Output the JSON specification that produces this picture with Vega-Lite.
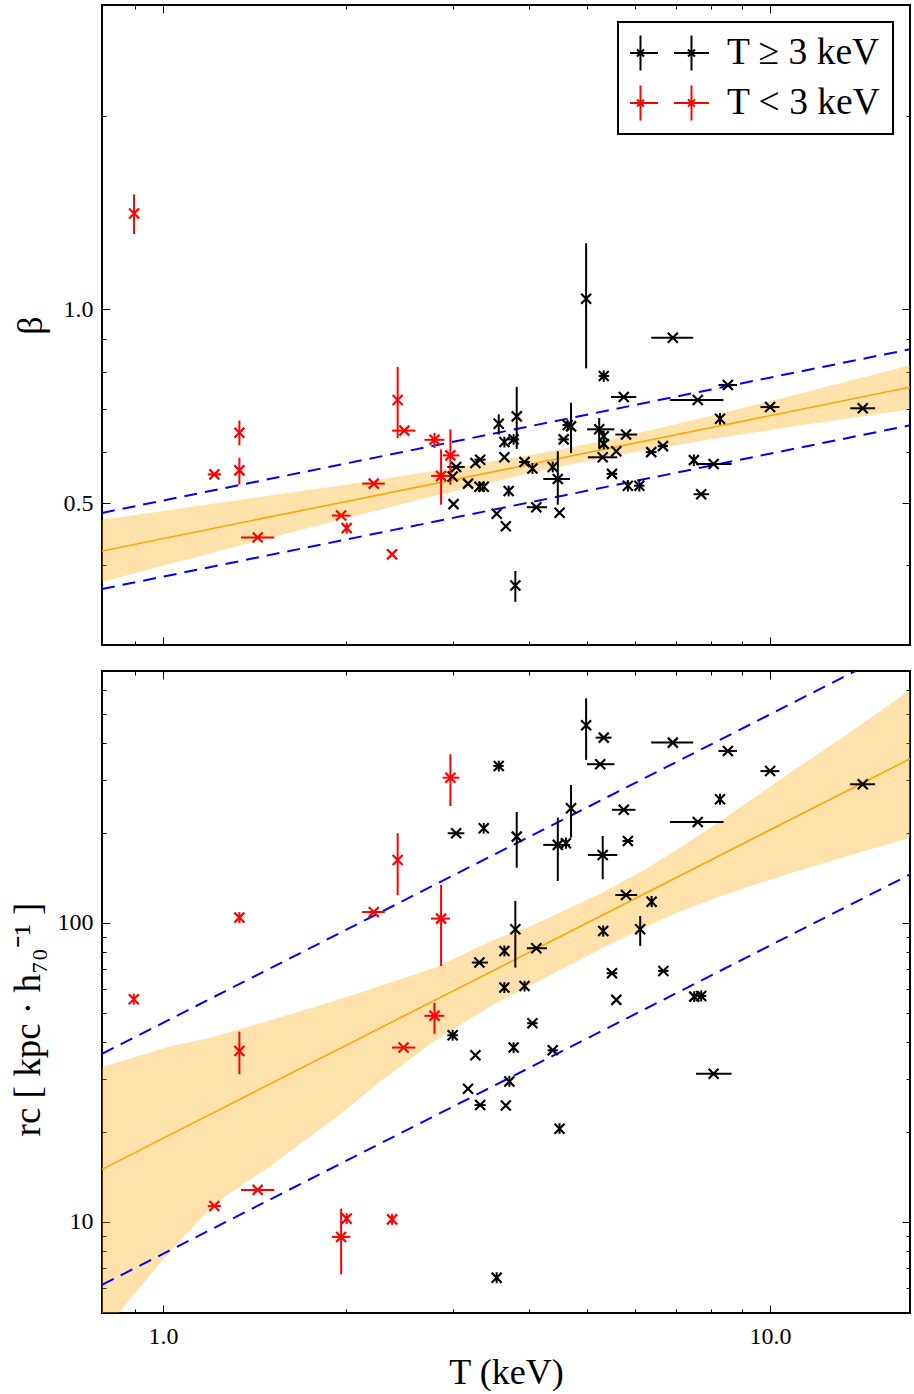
{
  "$schema": "https://vega.github.io/schema/vega-lite/v6.json",
  "background": "white",
  "padding": {"left": 8, "top": 3, "right": 5, "bottom": 0},
  "spacing": 22,
  "config": {
    "font": "Liberation Serif",
    "view": {"stroke": "black", "strokeWidth": 2},
    "axis": {
      "domain": false, "grid": false,
      "labelFont": "Liberation Serif", "labelFontSize": 24, "labelColor": "black",
      "tickColor": "black", "tickWidth": 1,
      "titleFont": "Liberation Serif", "titleFontSize": 36, "titleFontWeight": "normal", "titleColor": "black",
      "labelFlush": false, "labelOverlap": false, "labelBound": false
    },
    "legend": {"strokeWidth": 2}
  },
  "datasets": {
    "beta": [
      {"T": 0.896, "b": 1.41, "bl": 1.31, "bh": 1.51, "g": "T < 3 keV"},
      {"T": 1.215, "b": 0.554, "tl": 1.185, "th": 1.246, "g": "T < 3 keV"},
      {"T": 1.336, "b": 0.643, "bl": 0.615, "bh": 0.672, "g": "T < 3 keV"},
      {"T": 1.336, "b": 0.562, "bl": 0.534, "bh": 0.588, "g": "T < 3 keV"},
      {"T": 1.432, "b": 0.442, "tl": 1.344, "th": 1.525, "g": "T < 3 keV"},
      {"T": 1.965, "b": 0.478, "tl": 1.898, "th": 2.035, "g": "T < 3 keV"},
      {"T": 2.007, "b": 0.457, "bl": 0.448, "bh": 0.466, "g": "T < 3 keV"},
      {"T": 2.224, "b": 0.536, "tl": 2.128, "th": 2.319, "g": "T < 3 keV"},
      {"T": 2.384, "b": 0.416, "g": "T < 3 keV"},
      {"T": 2.435, "b": 0.723, "bl": 0.631, "bh": 0.814, "g": "T < 3 keV"},
      {"T": 2.498, "b": 0.648, "tl": 2.384, "th": 2.604, "g": "T < 3 keV"},
      {"T": 2.8, "b": 0.627, "bl": 0.609, "bh": 0.643, "tl": 2.695, "th": 2.907, "g": "T < 3 keV"},
      {"T": 2.871, "b": 0.551, "bl": 0.497, "bh": 0.606, "tl": 2.764, "th": 2.97, "g": "T < 3 keV"},
      {"T": 2.974, "b": 0.593, "bl": 0.534, "bh": 0.651, "tl": 2.89, "th": 3.077, "g": "T < 3 keV"},
      {"T": 4.977, "b": 1.039, "bl": 0.81, "bh": 1.268, "g": "T ≥ 3 keV"},
      {"T": 6.915, "b": 0.904, "tl": 6.37, "th": 7.47, "g": "T ≥ 3 keV"},
      {"T": 5.32, "b": 0.788, "bl": 0.772, "bh": 0.804, "tl": 5.22, "th": 5.43, "g": "T ≥ 3 keV"},
      {"T": 5.74, "b": 0.731, "tl": 5.47, "th": 6.02, "g": "T ≥ 3 keV"},
      {"T": 3.573, "b": 0.664, "bl": 0.639, "bh": 0.687, "g": "T ≥ 3 keV"},
      {"T": 3.825, "b": 0.682, "bl": 0.607, "bh": 0.758, "g": "T ≥ 3 keV"},
      {"T": 3.65, "b": 0.622, "bl": 0.61, "bh": 0.634, "g": "T ≥ 3 keV"},
      {"T": 3.78, "b": 0.628, "bl": 0.616, "bh": 0.64, "tl": 3.7, "th": 3.86, "g": "T ≥ 3 keV"},
      {"T": 3.65, "b": 0.589, "g": "T ≥ 3 keV"},
      {"T": 3.27, "b": 0.577, "g": "T ≥ 3 keV"},
      {"T": 3.33, "b": 0.584, "tl": 3.26, "th": 3.4, "g": "T ≥ 3 keV"},
      {"T": 3.04, "b": 0.569, "tl": 2.94, "th": 3.14, "g": "T ≥ 3 keV"},
      {"T": 3.0, "b": 0.55, "g": "T ≥ 3 keV"},
      {"T": 3.01, "b": 0.498, "g": "T ≥ 3 keV"},
      {"T": 3.18, "b": 0.536, "g": "T ≥ 3 keV"},
      {"T": 3.32, "b": 0.53, "bl": 0.52, "bh": 0.54, "g": "T ≥ 3 keV"},
      {"T": 3.375, "b": 0.53, "bl": 0.52, "bh": 0.54, "g": "T ≥ 3 keV"},
      {"T": 3.71, "b": 0.522, "bl": 0.512, "bh": 0.532, "g": "T ≥ 3 keV"},
      {"T": 3.545, "b": 0.481, "g": "T ≥ 3 keV"},
      {"T": 3.67, "b": 0.46, "g": "T ≥ 3 keV"},
      {"T": 3.805, "b": 0.372, "bl": 0.351, "bh": 0.392, "g": "T ≥ 3 keV"},
      {"T": 3.94, "b": 0.579, "tl": 3.86, "th": 4.02, "g": "T ≥ 3 keV"},
      {"T": 4.06, "b": 0.566, "bl": 0.555, "bh": 0.577, "g": "T ≥ 3 keV"},
      {"T": 4.12, "b": 0.4925, "tl": 3.975, "th": 4.29, "g": "T ≥ 3 keV"},
      {"T": 4.385, "b": 0.569, "bl": 0.558, "bh": 0.58, "g": "T ≥ 3 keV"},
      {"T": 4.47, "b": 0.545, "tl": 4.23, "th": 4.68, "bl": 0.497, "bh": 0.602, "g": "T ≥ 3 keV"},
      {"T": 4.5, "b": 0.483, "g": "T ≥ 3 keV"},
      {"T": 4.57, "b": 0.628, "tl": 4.48, "th": 4.66, "g": "T ≥ 3 keV"},
      {"T": 4.64, "b": 0.661, "bl": 0.648, "bh": 0.674, "tl": 4.55, "th": 4.73, "g": "T ≥ 3 keV"},
      {"T": 4.7, "b": 0.658, "bl": 0.598, "bh": 0.716, "g": "T ≥ 3 keV"},
      {"T": 5.23, "b": 0.651, "tl": 4.995, "th": 5.54, "bl": 0.609, "bh": 0.678, "g": "T ≥ 3 keV"},
      {"T": 5.32, "b": 0.635, "bl": 0.623, "bh": 0.648, "g": "T ≥ 3 keV"},
      {"T": 5.32, "b": 0.618, "bl": 0.606, "bh": 0.63, "g": "T ≥ 3 keV"},
      {"T": 5.3, "b": 0.589, "tl": 5.01, "th": 5.6, "g": "T ≥ 3 keV"},
      {"T": 5.79, "b": 0.639, "tl": 5.56, "th": 6.04, "g": "T ≥ 3 keV"},
      {"T": 5.58, "b": 0.602, "g": "T ≥ 3 keV"},
      {"T": 5.49, "b": 0.555, "tl": 5.38, "th": 5.6, "g": "T ≥ 3 keV"},
      {"T": 5.83, "b": 0.532, "bl": 0.521, "bh": 0.543, "g": "T ≥ 3 keV"},
      {"T": 6.09, "b": 0.532, "bl": 0.521, "bh": 0.543, "tl": 5.97, "th": 6.21, "g": "T ≥ 3 keV"},
      {"T": 6.37, "b": 0.6, "tl": 6.24, "th": 6.5, "g": "T ≥ 3 keV"},
      {"T": 6.66, "b": 0.613, "tl": 6.53, "th": 6.79, "g": "T ≥ 3 keV"},
      {"T": 8.52, "b": 0.763, "tl": 8.22, "th": 8.82, "g": "T ≥ 3 keV"},
      {"T": 7.6, "b": 0.723, "tl": 6.84, "th": 8.38, "g": "T ≥ 3 keV"},
      {"T": 8.27, "b": 0.676, "bl": 0.662, "bh": 0.69, "g": "T ≥ 3 keV"},
      {"T": 10.0, "b": 0.705, "tl": 9.64, "th": 10.36, "g": "T ≥ 3 keV"},
      {"T": 14.21, "b": 0.702, "tl": 13.55, "th": 14.89, "g": "T ≥ 3 keV"},
      {"T": 7.49, "b": 0.583, "bl": 0.571, "bh": 0.595, "g": "T ≥ 3 keV"},
      {"T": 8.07, "b": 0.575, "tl": 7.55, "th": 8.64, "g": "T ≥ 3 keV"},
      {"T": 7.7, "b": 0.516, "tl": 7.48, "th": 7.94, "g": "T ≥ 3 keV"}
    ],
    "rc": [
      {"T": 0.895, "r": 55.6, "rl": 53.3, "rh": 58, "g": "T < 3 keV"},
      {"T": 1.215, "r": 11.3, "tl": 1.185, "th": 1.246, "g": "T < 3 keV"},
      {"T": 1.336, "r": 104.2, "rl": 99.9, "rh": 108.7, "g": "T < 3 keV"},
      {"T": 1.336, "r": 37.3, "rl": 31.2, "rh": 43.3, "g": "T < 3 keV"},
      {"T": 1.432, "r": 12.8, "tl": 1.344, "th": 1.525, "g": "T < 3 keV"},
      {"T": 1.965, "r": 8.91, "rl": 6.68, "rh": 11.08, "tl": 1.898, "th": 2.035, "g": "T < 3 keV"},
      {"T": 2.007, "r": 10.26, "rl": 9.84, "rh": 10.7, "g": "T < 3 keV"},
      {"T": 2.224, "r": 108.8, "tl": 2.128, "th": 2.319, "g": "T < 3 keV"},
      {"T": 2.384, "r": 10.2, "rl": 9.78, "rh": 10.64, "g": "T < 3 keV"},
      {"T": 2.435, "r": 162.4, "rl": 123.8, "rh": 199.5, "g": "T < 3 keV"},
      {"T": 2.49, "r": 38.3, "tl": 2.384, "th": 2.604, "g": "T < 3 keV"},
      {"T": 2.8, "r": 48.9, "rl": 42.6, "rh": 54.1, "tl": 2.695, "th": 2.907, "g": "T < 3 keV"},
      {"T": 2.871, "r": 103.4, "rl": 71.8, "rh": 134, "tl": 2.764, "th": 2.97, "g": "T < 3 keV"},
      {"T": 2.974, "r": 306, "rl": 246, "rh": 366.6, "tl": 2.89, "th": 3.077, "g": "T < 3 keV"},
      {"T": 4.977, "r": 458, "rl": 351, "rh": 564, "g": "T ≥ 3 keV"},
      {"T": 5.32, "r": 416.6, "tl": 5.16, "th": 5.48, "g": "T ≥ 3 keV"},
      {"T": 6.915, "r": 401, "tl": 6.37, "th": 7.47, "g": "T ≥ 3 keV"},
      {"T": 5.25, "r": 339.6, "tl": 4.995, "th": 5.54, "g": "T ≥ 3 keV"},
      {"T": 3.573, "r": 335, "rl": 321, "rh": 349, "tl": 3.5, "th": 3.64, "g": "T ≥ 3 keV"},
      {"T": 4.7, "r": 241.9, "rl": 192.9, "rh": 289.3, "g": "T ≥ 3 keV"},
      {"T": 5.74, "r": 239, "tl": 5.49, "th": 6.0, "g": "T ≥ 3 keV"},
      {"T": 3.04, "r": 199.5, "tl": 2.944, "th": 3.136, "g": "T ≥ 3 keV"},
      {"T": 3.375, "r": 207.4, "rl": 199, "rh": 216, "g": "T ≥ 3 keV"},
      {"T": 3.825, "r": 194.4, "rl": 153, "rh": 235, "g": "T ≥ 3 keV"},
      {"T": 4.47, "r": 182.4, "tl": 4.23, "th": 4.68, "rl": 138.2, "rh": 225, "g": "T ≥ 3 keV"},
      {"T": 4.61, "r": 184.8, "rl": 177, "rh": 193, "g": "T ≥ 3 keV"},
      {"T": 5.83, "r": 188, "tl": 5.71, "th": 5.95, "g": "T ≥ 3 keV"},
      {"T": 5.3, "r": 168.8, "tl": 5.01, "th": 5.6, "rl": 140, "rh": 195.4, "g": "T ≥ 3 keV"},
      {"T": 5.79, "r": 124, "tl": 5.56, "th": 6.04, "g": "T ≥ 3 keV"},
      {"T": 6.38, "r": 117.8, "rl": 113, "rh": 123, "g": "T ≥ 3 keV"},
      {"T": 3.805, "r": 95.3, "rl": 70.9, "rh": 118.5, "g": "T ≥ 3 keV"},
      {"T": 5.31, "r": 94, "rl": 90, "rh": 98, "g": "T ≥ 3 keV"},
      {"T": 6.11, "r": 95.3, "rl": 83.8, "rh": 105.5, "g": "T ≥ 3 keV"},
      {"T": 4.12, "r": 82.3, "tl": 3.975, "th": 4.29, "g": "T ≥ 3 keV"},
      {"T": 3.65, "r": 80.6, "rl": 77.3, "rh": 84, "g": "T ≥ 3 keV"},
      {"T": 3.32, "r": 73.7, "tl": 3.226, "th": 3.43, "g": "T ≥ 3 keV"},
      {"T": 3.65, "r": 60.8, "rl": 58.3, "rh": 63.4, "g": "T ≥ 3 keV"},
      {"T": 3.94, "r": 61.5, "rl": 59, "rh": 64, "g": "T ≥ 3 keV"},
      {"T": 5.49, "r": 67.9, "tl": 5.38, "th": 5.6, "g": "T ≥ 3 keV"},
      {"T": 6.67, "r": 69.1, "tl": 6.54, "th": 6.8, "g": "T ≥ 3 keV"},
      {"T": 5.58, "r": 55.3, "g": "T ≥ 3 keV"},
      {"T": 7.5, "r": 56.7, "rl": 54.4, "rh": 59.1, "g": "T ≥ 3 keV"},
      {"T": 7.7, "r": 57, "rl": 54.6, "rh": 59.5, "tl": 7.55, "th": 7.85, "g": "T ≥ 3 keV"},
      {"T": 8.52, "r": 376, "tl": 8.22, "th": 8.82, "g": "T ≥ 3 keV"},
      {"T": 10.0, "r": 322, "tl": 9.64, "th": 10.36, "g": "T ≥ 3 keV"},
      {"T": 14.21, "r": 290.9, "tl": 13.55, "th": 14.89, "g": "T ≥ 3 keV"},
      {"T": 8.27, "r": 259.2, "rl": 248.5, "rh": 270.3, "g": "T ≥ 3 keV"},
      {"T": 7.6, "r": 217.6, "tl": 6.84, "th": 8.38, "g": "T ≥ 3 keV"},
      {"T": 8.07, "r": 31.3, "tl": 7.55, "th": 8.64, "g": "T ≥ 3 keV"},
      {"T": 3.0, "r": 42.1, "rl": 40.4, "rh": 43.9, "tl": 2.94, "th": 3.06, "g": "T ≥ 3 keV"},
      {"T": 3.27, "r": 36.1, "g": "T ≥ 3 keV"},
      {"T": 3.78, "r": 38.3, "rl": 36.7, "rh": 39.9, "g": "T ≥ 3 keV"},
      {"T": 4.06, "r": 46.2, "tl": 3.98, "th": 4.14, "g": "T ≥ 3 keV"},
      {"T": 4.385, "r": 37.5, "tl": 4.3, "th": 4.47, "g": "T ≥ 3 keV"},
      {"T": 3.72, "r": 29.5, "rl": 28.3, "rh": 30.8, "g": "T ≥ 3 keV"},
      {"T": 3.18, "r": 27.9, "g": "T ≥ 3 keV"},
      {"T": 3.33, "r": 24.6, "tl": 3.26, "th": 3.4, "g": "T ≥ 3 keV"},
      {"T": 3.67, "r": 24.5, "g": "T ≥ 3 keV"},
      {"T": 4.5, "r": 20.5, "rl": 19.7, "rh": 21.4, "g": "T ≥ 3 keV"},
      {"T": 3.545, "r": 6.51, "rl": 6.24, "rh": 6.79, "g": "T ≥ 3 keV"}
    ],
    "topband": [
      {"T": 0.7934, "lo": 0.3767, "hi": 0.4708},
      {"T": 1.0, "lo": 0.3994, "hi": 0.486},
      {"T": 1.5, "lo": 0.4413, "hi": 0.5136},
      {"T": 2.0, "lo": 0.4734, "hi": 0.534},
      {"T": 3.0, "lo": 0.5211, "hi": 0.5666},
      {"T": 4.0, "lo": 0.5556, "hi": 0.5932},
      {"T": 5.0, "lo": 0.581, "hi": 0.6177},
      {"T": 6.0, "lo": 0.6002, "hi": 0.641},
      {"T": 8.0, "lo": 0.6282, "hi": 0.6834},
      {"T": 10.0, "lo": 0.6494, "hi": 0.7204},
      {"T": 13.0, "lo": 0.6738, "hi": 0.7675},
      {"T": 17.0, "lo": 0.6991, "hi": 0.8192}
    ],
    "topfit": [
      {"T": 0.7934, "f": 0.4211, "u": 0.4826, "l": 0.3675},
      {"T": 17.0, "f": 0.7568, "u": 0.8673, "l": 0.6604}
    ],
    "botband": [
      {"T": 0.7934, "lo": 4.22, "hi": 33.0},
      {"T": 0.846, "lo": 4.96, "hi": 34.3},
      {"T": 1.018, "lo": 7.82, "hi": 38.5},
      {"T": 1.215, "lo": 11.49, "hi": 41.6},
      {"T": 1.488, "lo": 15.19, "hi": 47.0},
      {"T": 1.913, "lo": 22.1, "hi": 54.8},
      {"T": 2.286, "lo": 29.6, "hi": 61.6},
      {"T": 2.796, "lo": 40.3, "hi": 70.7},
      {"T": 3.47, "lo": 52.8, "hi": 87.1},
      {"T": 4.04, "lo": 62.0, "hi": 97.7},
      {"T": 5.27, "lo": 81.9, "hi": 125.6},
      {"T": 6.2, "lo": 96.5, "hi": 150.2},
      {"T": 7.136, "lo": 109.7, "hi": 179.6},
      {"T": 8.2, "lo": 121.8, "hi": 216.5},
      {"T": 9.3, "lo": 132.9, "hi": 257.9},
      {"T": 10.9, "lo": 147.6, "hi": 322.4},
      {"T": 12.6, "lo": 161.2, "hi": 392.6},
      {"T": 14.67, "lo": 176.8, "hi": 486.6},
      {"T": 17.0, "lo": 192.4, "hi": 601.6}
    ],
    "botfit": [
      {"T": 0.7934, "f": 15.0, "u": 36.5, "l": 6.16},
      {"T": 17.0, "f": 353.9, "u": 861.6, "l": 145.3}
    ]
  },
  "vconcat": [
    {
      "width": 808,
      "height": 640,
      "resolve": {"axis": {"x": "independent", "y": "independent"}},
      "layer": [
        {
          "data": {"name": "topband"},
          "mark": {"type": "area", "color": "orange", "opacity": 0.33, "clip": true},
          "encoding": {
            "x": {"field": "T", "type": "quantitative",
              "scale": {"type": "log", "domain": [0.7934, 17.0], "nice": false},
              "axis": {"orient": "bottom", "values": [0.9, 1, 2, 3, 4, 5, 6, 7, 8, 9, 10], "labels": false, "title": null,
                "tickSize": {"condition": {"test": "datum.value == 1 || datum.value == 10", "value": -8}, "value": -4}}},
            "y": {"field": "lo", "type": "quantitative",
              "scale": {"type": "log", "domain": [0.3007, 2.976], "nice": false},
              "axis": {"orient": "left", "values": [0.4, 0.5, 0.6, 0.7, 0.8, 0.9, 1, 2],
                "labelExpr": "datum.value == 0.5 ? '0.5' : datum.value == 1 ? '1.0' : ''",
                "tickSize": {"condition": {"test": "datum.value == 0.5 || datum.value == 1", "value": -8}, "value": -4},
                "labelPadding": 17, "title": "β", "titlePadding": 14}},
            "y2": {"field": "hi"}
          }
        },
        {
          "data": {"name": "topfit"},
          "mark": {"type": "line", "color": "orange", "strokeWidth": 1.6, "clip": true},
          "encoding": {
            "x": {"field": "T", "type": "quantitative",
              "axis": {"orient": "top", "values": [0.9, 1, 2, 3, 4, 5, 6, 7, 8, 9, 10], "labels": false, "title": null,
                "tickSize": {"condition": {"test": "datum.value == 1 || datum.value == 10", "value": -8}, "value": -4}}},
            "y": {"field": "f", "type": "quantitative",
              "axis": {"orient": "right", "values": [0.4, 0.5, 0.6, 0.7, 0.8, 0.9, 1, 2], "labels": false, "title": null,
                "tickSize": {"condition": {"test": "datum.value == 0.5 || datum.value == 1", "value": -8}, "value": -4}}}
          }
        },
        {
          "data": {"name": "topfit"},
          "mark": {"type": "line", "color": "blue", "strokeWidth": 2, "strokeDash": [13, 8], "clip": true},
          "encoding": {
            "x": {"field": "T", "type": "quantitative", "axis": null},
            "y": {"field": "u", "type": "quantitative", "axis": null}
          }
        },
        {
          "data": {"name": "topfit"},
          "mark": {"type": "line", "color": "blue", "strokeWidth": 2, "strokeDash": [13, 8], "clip": true},
          "encoding": {
            "x": {"field": "T", "type": "quantitative", "axis": null},
            "y": {"field": "l", "type": "quantitative", "axis": null}
          }
        },
        {
          "data": {"name": "beta"},
          "transform": [{"filter": "isValid(datum.tl)"}],
          "mark": {"type": "rule", "strokeWidth": 2, "clip": true},
          "encoding": {
            "x": {"field": "tl", "type": "quantitative", "axis": null},
            "x2": {"field": "th"},
            "y": {"field": "b", "type": "quantitative", "axis": null},
            "color": {"field": "g", "type": "nominal", "scale": {"domain": ["T ≥ 3 keV", "T < 3 keV"], "range": ["black", "red"]}}
          }
        },
        {
          "data": {"name": "beta"},
          "transform": [{"filter": "isValid(datum.bl)"}],
          "mark": {"type": "rule", "strokeWidth": 2, "clip": true},
          "encoding": {
            "x": {"field": "T", "type": "quantitative", "axis": null},
            "y": {"field": "bl", "type": "quantitative", "axis": null},
            "y2": {"field": "bh"},
            "color": {"field": "g", "type": "nominal", "scale": {"domain": ["T ≥ 3 keV", "T < 3 keV"], "range": ["black", "red"]}}
          }
        },
        {
          "data": {"name": "beta"},
          "mark": {"type": "point", "shape": "M-1,-1L1,1M-1,1L1,-1", "size": 100, "strokeWidth": 2.2, "filled": false, "opacity": 1, "clip": true},
          "encoding": {
            "x": {"field": "T", "type": "quantitative", "axis": null},
            "y": {"field": "b", "type": "quantitative", "axis": null},
            "color": {"field": "g", "type": "nominal", "scale": {"domain": ["T ≥ 3 keV", "T < 3 keV"], "range": ["black", "red"]},
              "legend": {"title": null, "orient": "top-right", "offset": 17,
                "symbolType": "M-1,0H-0.186M-0.593,-0.407V0.407M0.186,0H1M0.593,-0.407V0.407M-0.674,-0.081L-0.512,0.081M-0.674,0.081L-0.512,-0.081M0.512,-0.081L0.674,0.081M0.512,0.081L0.674,-0.081",
                "symbolSize": 7396, "symbolStrokeWidth": 2, "symbolOpacity": 1, "symbolOffset": -8, "clipHeight": 38,
                "labelFontSize": 37.5, "labelFont": "Liberation Serif", "labelColor": "black", "labelOffset": 17, "labelLimit": 400,
                "strokeColor": "black", "fillColor": "white", "padding": 12, "rowPadding": 12, "cornerRadius": 0}}
          }
        }
      ]
    },
    {
      "width": 808,
      "height": 642,
      "resolve": {"axis": {"x": "independent", "y": "independent"}},
      "layer": [
        {
          "data": {"name": "botband"},
          "mark": {"type": "area", "color": "orange", "opacity": 0.33, "clip": true},
          "encoding": {
            "x": {"field": "T", "type": "quantitative",
              "scale": {"type": "log", "domain": [0.7934, 17.0], "nice": false},
              "axis": {"orient": "bottom", "values": [0.9, 1, 2, 3, 4, 5, 6, 7, 8, 9, 10],
                "labelExpr": "datum.value == 1 ? '1.0' : datum.value == 10 ? '10.0' : ''",
                "tickSize": {"condition": {"test": "datum.value == 1 || datum.value == 10", "value": -8}, "value": -4},
                "labelPadding": 19, "title": "T (keV)", "titlePadding": 3}},
            "y": {"field": "lo", "type": "quantitative",
              "scale": {"type": "log", "domain": [4.96, 696], "nice": false},
              "axis": {"orient": "left", "values": [6, 7, 8, 9, 10, 20, 30, 40, 50, 60, 70, 80, 90, 100, 200, 300, 400, 500, 600],
                "labelExpr": "datum.value == 10 ? '10' : datum.value == 100 ? '100' : ''",
                "tickSize": {"condition": {"test": "datum.value == 10 || datum.value == 100", "value": -8}, "value": -4},
                "labelPadding": 17, "title": "rc  [ kpc · h₇₀⁻¹ ]", "titlePadding": 10, "titleFontSize": 37, "titleY": 348}},
            "y2": {"field": "hi"}
          }
        },
        {
          "data": {"name": "botfit"},
          "mark": {"type": "line", "color": "orange", "strokeWidth": 1.6, "clip": true},
          "encoding": {
            "x": {"field": "T", "type": "quantitative",
              "axis": {"orient": "top", "values": [0.9, 1, 2, 3, 4, 5, 6, 7, 8, 9, 10], "labels": false, "title": null,
                "tickSize": {"condition": {"test": "datum.value == 1 || datum.value == 10", "value": -8}, "value": -4}}},
            "y": {"field": "f", "type": "quantitative",
              "axis": {"orient": "right", "values": [6, 7, 8, 9, 10, 20, 30, 40, 50, 60, 70, 80, 90, 100, 200, 300, 400, 500, 600], "labels": false, "title": null,
                "tickSize": {"condition": {"test": "datum.value == 10 || datum.value == 100", "value": -8}, "value": -4}}}
          }
        },
        {
          "data": {"name": "botfit"},
          "mark": {"type": "line", "color": "blue", "strokeWidth": 2, "strokeDash": [13, 8], "clip": true},
          "encoding": {
            "x": {"field": "T", "type": "quantitative", "axis": null},
            "y": {"field": "u", "type": "quantitative", "axis": null}
          }
        },
        {
          "data": {"name": "botfit"},
          "mark": {"type": "line", "color": "blue", "strokeWidth": 2, "strokeDash": [13, 8], "clip": true},
          "encoding": {
            "x": {"field": "T", "type": "quantitative", "axis": null},
            "y": {"field": "l", "type": "quantitative", "axis": null}
          }
        },
        {
          "data": {"name": "rc"},
          "transform": [{"filter": "isValid(datum.tl)"}],
          "mark": {"type": "rule", "strokeWidth": 2, "clip": true},
          "encoding": {
            "x": {"field": "tl", "type": "quantitative", "axis": null},
            "x2": {"field": "th"},
            "y": {"field": "r", "type": "quantitative", "axis": null},
            "color": {"field": "g", "type": "nominal", "scale": {"domain": ["T ≥ 3 keV", "T < 3 keV"], "range": ["black", "red"]}, "legend": null}
          }
        },
        {
          "data": {"name": "rc"},
          "transform": [{"filter": "isValid(datum.rl)"}],
          "mark": {"type": "rule", "strokeWidth": 2, "clip": true},
          "encoding": {
            "x": {"field": "T", "type": "quantitative", "axis": null},
            "y": {"field": "rl", "type": "quantitative", "axis": null},
            "y2": {"field": "rh"},
            "color": {"field": "g", "type": "nominal", "scale": {"domain": ["T ≥ 3 keV", "T < 3 keV"], "range": ["black", "red"]}, "legend": null}
          }
        },
        {
          "data": {"name": "rc"},
          "mark": {"type": "point", "shape": "M-1,-1L1,1M-1,1L1,-1", "size": 100, "strokeWidth": 2.2, "filled": false, "opacity": 1, "clip": true},
          "encoding": {
            "x": {"field": "T", "type": "quantitative", "axis": null},
            "y": {"field": "r", "type": "quantitative", "axis": null},
            "color": {"field": "g", "type": "nominal", "scale": {"domain": ["T ≥ 3 keV", "T < 3 keV"], "range": ["black", "red"]}, "legend": null}
          }
        }
      ]
    }
  ]
}
